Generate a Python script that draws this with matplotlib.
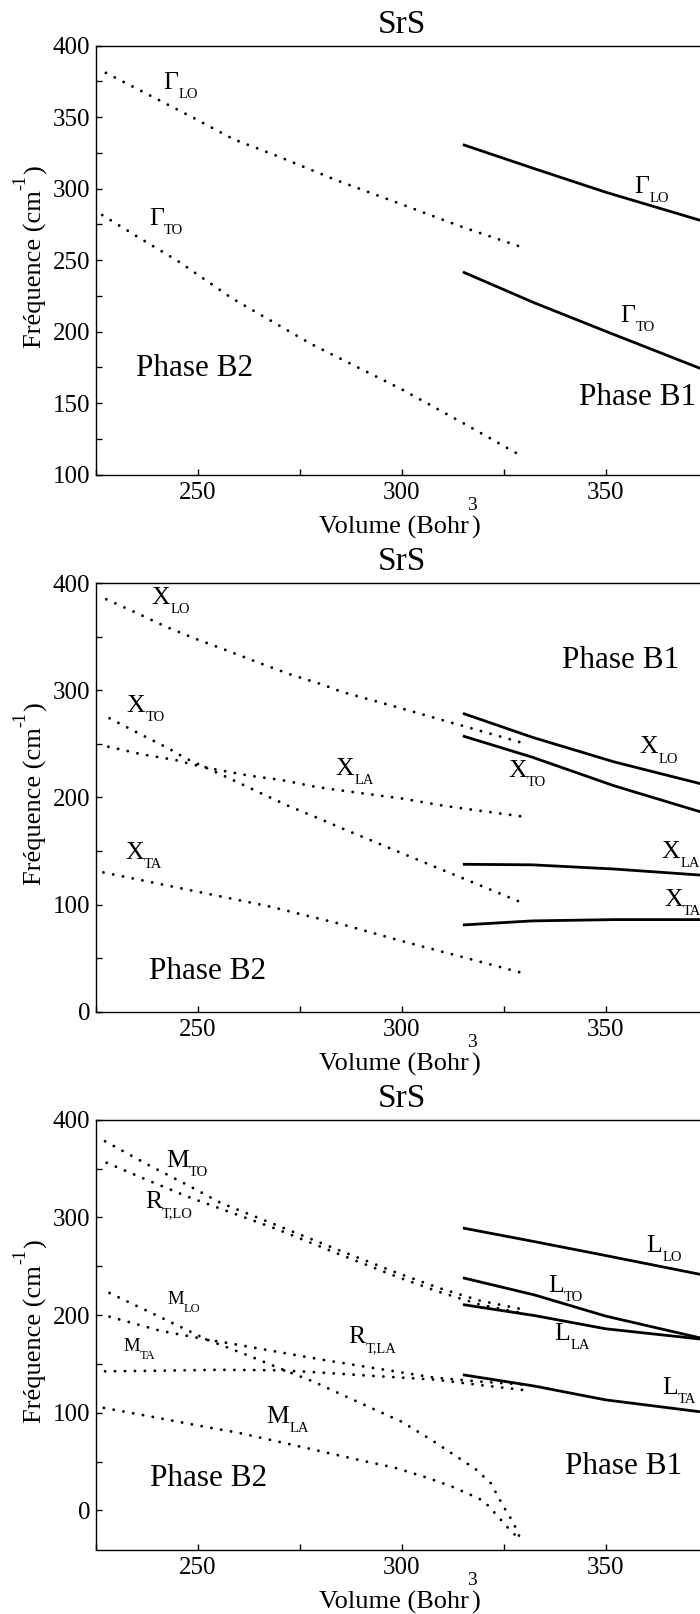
import matplotlib.pyplot as plt
from matplotlib.ticker import MultipleLocator

plt.rcParams['font.family'] = ['Liberation Serif', 'DejaVu Serif']

W, H = 700, 1614

# ---- panel 1 : Gamma point ----
gLO_b2_v = [227.5, 239.8, 249.3, 258.8, 268.9, 283.9, 300, 315, 329.5]
gLO_b2_f = [381, 363, 349, 334.5, 323.5, 306, 289, 273, 259]
gTO_b2_v = [226.6, 235.9, 245.1, 251.7, 258.4, 278, 300, 315.3, 329.5]
gTO_b2_f = [281.5, 265.2, 249.4, 236.5, 223.3, 191, 159.6, 135.6, 112.7]
g_b1_v = [315, 332.6, 350, 373.2, 380]
gLO_b1_f = [330.8, 313.9, 297.5, 277.8, 272.5]
gTO_b1_f = [241.7, 220, 200.2, 174.2, 166.5]

# ---- panel 2 : X point ----
xLO_b2_v = [227.6, 234.9, 242.2, 249.8, 257.5, 264.9, 272.6, 280.4, 285.2, 300, 311, 329.5]
xLO_b2_f = [384.8, 372.3, 359.2, 347.5, 336.6, 325.7, 314.8, 305.5, 298.6, 283, 271, 251]
xTO_b2_v = [228.4, 235.5, 242.8, 247, 257.4, 264.7, 272.1, 279.6, 284.4, 300, 315, 329.5]
xTO_b2_f = [273.8, 259.8, 245.8, 236.5, 218.4, 205.3, 192.3, 180.5, 172.7, 148, 124.5, 101.8]
xLA_b2_v = [228.1, 236.3, 244.5, 249.3, 255, 262.8, 270.6, 278.7, 284.1, 300, 310.6, 329.5]
xLA_b2_f = [247.3, 240.2, 234.9, 230.2, 225.6, 220.2, 216.2, 210, 207, 199, 192, 182.2]
xTA_b2_v = [226.9, 250, 267.2, 285, 300, 315, 329.5]
xTA_b2_f = [130, 112, 98.6, 82, 66, 51, 36.3]
x_b1_v = [315, 332, 352, 373, 380]
xLO_b1_f = [278.4, 256.1, 233.2, 213, 207]
xTO_b1_f = [257.3, 237.5, 210.9, 186.8, 179]
xLA_b1_f = [137.6, 137.1, 133.2, 127.6, 126]
xTA_b1_f = [81, 84.8, 86, 86, 86]

# ---- panel 3 : M, R (B2) and L (B1) points ----
mTO_v = [227.3, 237.8, 248.5, 255.6, 269.4, 284.3, 299, 309, 319, 329.5]
mTO_f = [378, 354, 331, 315, 292, 267, 243, 228, 215, 206]
rTLO_v = [227.7, 237.8, 247.7, 255.6, 269.4, 284.3, 299, 309, 319, 329.5]
rTLO_f = [356, 338, 321, 309, 288, 263, 239, 224, 211, 202]
mLO_v = [228.4, 239.8, 252.2, 262.8, 270.1, 278.3, 287.2, 299.9, 307, 312.8, 318.2, 321.8, 325.1, 327.3, 329.5]
mLO_f = [222.6, 200, 175, 158, 145.5, 132, 115, 91, 73, 57, 42, 28, 3, -12, -33]
rTLA_v = [228.4, 240.8, 252.2, 258, 270.1, 281, 292, 308, 319, 329.5]
rTLA_f = [198.4, 184, 175, 171, 162, 154, 146.6, 136, 132, 129]
mTA_v = [227.3, 240, 255, 270.1, 281, 292, 308, 319, 329.5]
mTA_f = [142.5, 143, 144, 143.5, 141, 138, 134, 128.5, 123.5]
mLA_v = [227, 240, 250, 260, 271.3, 282.3, 290.3, 298.1, 305.9, 312, 318.2, 320.2, 322.9, 326.3, 328.5]
mLA_f = [105, 95, 87, 79.5, 69, 58.5, 51, 44, 34, 25, 13.5, 9.4, -3, -19, -28]
l_b1_v = [315, 332.6, 350, 373.2, 380]
lLO_f = [289.2, 275.2, 261, 241.7, 236]
lTO_f = [238.2, 220.6, 199, 176.6, 171]
lLA_f = [210.8, 199.5, 186, 175.5, 172]
lTA_f = [138.9, 127.3, 113.2, 101, 97.5]

DOT = dict(color='black', lw=2.1, linestyle=(0, (0.01, 3.4)), dash_capstyle='round')
SOL = dict(color='black', lw=2.0, solid_capstyle='butt')

fig = plt.figure(figsize=(W / 100, H / 100), dpi=100)


def make_ax(top, bottom, ylo, yhi, ymaj, ymin):
    ax = fig.add_axes([95.7 / W, 1 - bottom / H, 155 * 4.08 / W, (bottom - top) / H])
    ax.set_xlim(225, 380)
    ax.set_ylim(ylo, yhi)
    ax.xaxis.set_major_locator(MultipleLocator(50))
    ax.xaxis.set_minor_locator(MultipleLocator(25))
    ax.yaxis.set_major_locator(MultipleLocator(ymaj))
    ax.yaxis.set_minor_locator(MultipleLocator(ymin))
    ax.tick_params(which='both', direction='in', length=4, width=1,
                   top=False, right=False, labelsize=18)
    ax.tick_params(axis='x', pad=5.4)
    ax.tick_params(axis='y', pad=4)
    for s in ax.spines.values():
        s.set_linewidth(1.0)

    # title
    fig.text(402 / W, 1 - (top - 12.8) / H, 'SrS', ha='center', va='baseline', fontsize=24)
    # x label with raised 3
    t1 = fig.text(319 / W, 1 - (bottom + 59) / H, 'Volume (Bohr', ha='left',
                  va='baseline', fontsize=19)
    ax.annotate('3', xy=(1, 0), xycoords=t1, xytext=(-1, 21),
                textcoords='offset points', fontsize=14, va='baseline', ha='left')
    ax.annotate(')', xy=(1, 0), xycoords=t1, xytext=(1.5, 0),
                textcoords='offset points', fontsize=19, va='bottom', ha='left')
    # y label with raised -1
    mid = (top + bottom) / 2
    y1 = fig.text(42 / W, 1 - (mid + 88) / H, 'Fréquence (cm', rotation=90,
                  rotation_mode='anchor', ha='left', va='baseline', fontsize=19)
    y2 = ax.annotate('-1', xy=(1, 1), xycoords=y1, xytext=(-15.6, 0.5),
                     textcoords='offset points', fontsize=13, rotation=90,
                     rotation_mode='anchor', ha='left', va='baseline')
    ax.annotate(')', xy=(1, 1), xycoords=(y1, y2), xytext=(-4.1, 0.5),
                textcoords='offset points', fontsize=19, rotation=90,
                rotation_mode='anchor', ha='left', va='baseline')
    return ax


def lab(ax, x, y, main, sub, size=18.5, subsize=10.5):
    t = ax.text(x, y, main, fontsize=size, ha='left', va='baseline')
    ax.annotate(sub, xy=(1, 0), xycoords=t, xytext=(0, -3),
                textcoords='offset points', fontsize=subsize, ha='left', va='baseline')


# panel 1
ax1 = make_ax(45.7, 474.5, 100, 400, 50, 25)
ax1.plot(gLO_b2_v, gLO_b2_f, **DOT)
ax1.plot(gTO_b2_v, gTO_b2_f, **DOT)
ax1.plot(g_b1_v, gLO_b1_f, **SOL)
ax1.plot(g_b1_v, gTO_b1_f, **SOL)
lab(ax1, 241.6, 369.5, 'Γ', 'LO')
lab(ax1, 238.1, 274.6, 'Γ', 'TO')
lab(ax1, 357.0, 297, 'Γ', 'LO')
lab(ax1, 353.6, 206.7, 'Γ', 'TO')
ax1.text(234.9, 168.6, 'Phase B2', fontsize=22.5, va='baseline')
ax1.text(343.5, 148.9, 'Phase B1', fontsize=22.5, va='baseline')

# panel 2
ax2 = make_ax(583, 1011.8, 0, 400, 100, 50)
ax2.plot(xLO_b2_v, xLO_b2_f, **DOT)
ax2.plot(xTO_b2_v, xTO_b2_f, **DOT)
ax2.plot(xLA_b2_v, xLA_b2_f, **DOT)
ax2.plot(xTA_b2_v, xTA_b2_f, **DOT)
ax2.plot(x_b1_v, xLO_b1_f, **SOL)
ax2.plot(x_b1_v, xTO_b1_f, **SOL)
ax2.plot(x_b1_v, xLA_b1_f, **SOL)
ax2.plot(x_b1_v, xTA_b1_f, **SOL)
lab(ax2, 238.7, 380.1, 'X', 'LO')
lab(ax2, 232.6, 280, 'X', 'TO')
lab(ax2, 283.8, 220.7, 'X', 'LA')
lab(ax2, 232.2, 143, 'X', 'TA')
lab(ax2, 358.3, 241.1, 'X', 'LO')
lab(ax2, 326.1, 219.3, 'X', 'TO')
lab(ax2, 363.7, 143.6, 'X', 'LA')
lab(ax2, 364.4, 98.7, 'X', 'TA')
ax2.text(339.2, 321, 'Phase B1', fontsize=22.5, va='baseline')
ax2.text(238, 30.6, 'Phase B2', fontsize=22.5, va='baseline')

# panel 3
ax3 = make_ax(1119.8, 1549.5, -40, 400, 100, 50)
for v, f in [(mTO_v, mTO_f), (rTLO_v, rTLO_f), (mLO_v, mLO_f),
             (rTLA_v, rTLA_f), (mTA_v, mTA_f), (mLA_v, mLA_f)]:
    ax3.plot(v, f, **DOT)
for f in [lLO_f, lTO_f, lLA_f, lTA_f]:
    ax3.plot(l_b1_v, f, **SOL)
lab(ax3, 242.2, 352, 'M', 'TO')
lab(ax3, 237.1, 309.4, 'R', 'T,LO')
lab(ax3, 242.5, 211.4, 'M', 'LO', 13.5, 9)
lab(ax3, 231.8, 163.6, 'M', 'TA', 13.5, 9)
lab(ax3, 286.9, 171.1, 'R', 'T,LA')
lab(ax3, 266.9, 89.5, 'M', 'LA')
lab(ax3, 360.0, 264.6, 'L', 'LO')
lab(ax3, 335.9, 224.1, 'L', 'TO')
lab(ax3, 337.5, 174.8, 'L', 'LA')
lab(ax3, 363.8, 119.2, 'L', 'TA')
ax3.text(238.2, 25.2, 'Phase B2', fontsize=22.5, va='baseline')
ax3.text(340.0, 36.8, 'Phase B1', fontsize=22.5, va='baseline')

fig.savefig('out.png', dpi=100)
